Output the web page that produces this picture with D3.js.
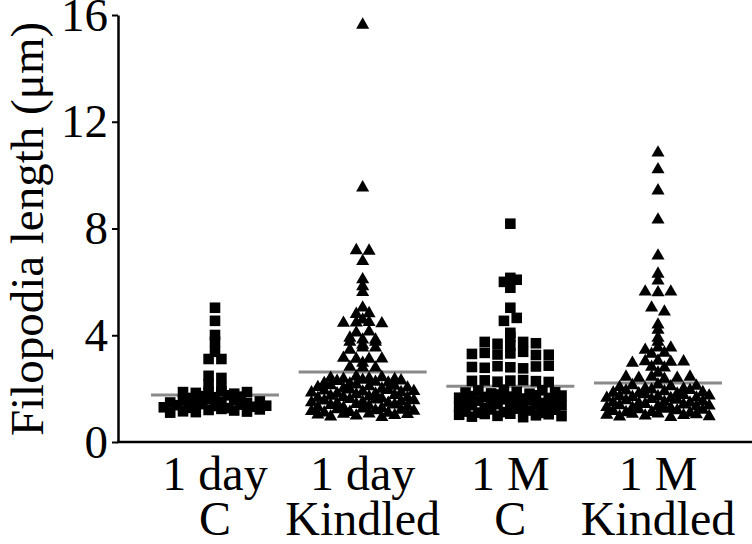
<!DOCTYPE html>
<html>
<head>
<meta charset="utf-8">
<script src="https://cdn.jsdelivr.net/npm/d3@7"></script>
<style>
  body { margin: 0; background: #fff; }
  svg text { font-family: "Liberation Serif", "Times New Roman", serif; fill: #000; }
</style>
</head>
<body>
<svg id="chart" width="752" height="544"></svg>
<script>
// category labels (two lines each)
var labelTop = ["1 day", "1 day", "1 M", "1 M"];
var labelBottom = ["C", "Kindled", "C", "Kindled"];
var yTicks = [0, 4, 8, 12, 16];

// filopodia lengths (um)
var dayC = [5.03, 4.54, 4.01, 3.75, 3.38, 3.11, 3.11, 2.48, 2.40, 2.14, 2.03,
  1.87, 1.84, 1.87, 1.90, 1.81, 1.87,
  1.65, 1.72, 1.68, 1.75, 1.70,
  1.48, 1.55, 1.45, 1.60, 1.50, 1.58, 1.46, 1.52,
  1.30, 1.38, 1.28, 1.42, 1.35, 1.27, 1.40, 1.32, 1.36,
  1.10, 1.15, 1.12, 1.20, 1.24, 1.18, 1.14, 1.22];
var dayKindled = [15.63, 9.53, 7.18, 7.16, 6.77, 6.09, 5.83, 5.61, 5.03, 4.79, 4.82,
  4.46, 4.47, 4.49, 4.44, 4.58, 3.75, 3.90, 3.83, 4.09, 4.13, 3.83, 3.64, 3.75,
  3.45, 3.53, 3.53, 3.15, 3.11, 2.96, 3.11, 3.12, 2.81, 2.78, 2.78,
  2.40, 2.36, 2.45, 2.38, 2.42, 2.35,
  2.20, 2.28, 2.18, 2.32, 2.25, 2.22, 2.30,
  2.05, 2.12, 2.00, 2.15, 2.08, 1.99, 2.10, 2.03,
  1.85, 1.92, 1.82, 1.96, 1.88, 1.81, 1.94, 1.86, 1.90,
  1.65, 1.72, 1.68, 1.78, 1.70, 1.63, 1.75, 1.66,
  1.48, 1.55, 1.45, 1.60, 1.50, 1.58, 1.46, 1.52, 1.56,
  1.30, 1.38, 1.28, 1.42, 1.35, 1.27, 1.40, 1.33,
  1.15, 1.10, 1.22, 1.12, 1.25, 1.18, 1.09, 1.20, 1.16,
  1.02, 0.95, 1.05, 0.98, 1.06, 0.93, 1.00, 1.04];
var monthC = [8.18, 6.15, 6.00, 6.08, 5.78, 5.03, 4.54, 4.65, 4.09, 3.94,
  3.75, 3.68, 3.62, 3.75, 3.70,
  3.30, 3.34, 3.28, 3.32, 3.38, 3.26, 3.27,
  2.81, 2.78, 2.84, 2.80, 2.76, 2.83, 2.86,
  2.29, 2.31, 2.26, 2.30, 2.32, 2.28, 2.25,
  1.85, 1.93, 1.82, 1.96, 1.88, 1.81, 1.94, 1.86,
  1.66, 1.72, 1.69, 1.78, 1.70, 1.63, 1.75, 1.65, 1.74,
  1.49, 1.55, 1.45, 1.60, 1.51, 1.58, 1.46, 1.53,
  1.31, 1.38, 1.28, 1.42, 1.35, 1.27, 1.40, 1.33, 1.37,
  1.14, 1.10, 1.22, 1.12, 1.25, 1.18, 1.09, 1.21,
  1.02, 0.95, 1.05, 0.98, 1.06, 0.93, 1.00, 1.04, 0.97];
var monthKindled = [10.84, 10.21, 9.42, 8.33, 6.98, 6.30, 6.04, 5.63, 5.60, 5.63,
  5.03, 4.88, 4.39, 4.20, 3.90, 3.75, 3.45, 3.53, 3.53, 3.30, 3.34,
  2.96, 3.02, 3.04, 3.00, 3.01, 2.81, 2.78, 2.59,
  2.44, 2.40, 2.44, 2.36, 2.40, 2.44,
  2.05, 2.12, 2.00, 2.15, 2.08, 1.99, 2.10,
  1.84, 1.92, 1.82, 1.96, 1.89, 1.81, 1.94, 1.86,
  1.65, 1.71, 1.68, 1.78, 1.70, 1.64, 1.75, 1.66, 1.73,
  1.48, 1.56, 1.45, 1.60, 1.50, 1.57, 1.47, 1.52,
  1.30, 1.37, 1.28, 1.42, 1.34, 1.27, 1.40, 1.33, 1.36,
  1.15, 1.11, 1.22, 1.12, 1.24, 1.18, 1.09, 1.20,
  1.01, 0.95, 1.05, 0.98, 1.06, 0.93, 1.00, 1.03, 0.96];
var medians = [1.76, 2.62, 2.09, 2.21];

var series = [dayC, dayKindled, monthC, monthKindled];
var shapes = [d3.symbolSquare, d3.symbolTriangle, d3.symbolSquare, d3.symbolTriangle];
var sizes = [112, 74, 112, 74];

var axisX = 118, axisY = 442;
var binSize = 0.18, dx = 12.8, halfLine = 64;

var svg = d3.select("#chart");

var x = d3.scalePoint().domain(d3.range(4)).range([215, 658]);
var y = d3.scaleLinear().domain([0, 16]).range([axisY, 15]);

// values sharing a bin are set side by side, centred on the category
function swarm(values, cx) {
  var pts = [];
  d3.groups(values, function (v) { return Math.floor(v / binSize); })
    .forEach(function (b) {
      var n = b[1].length;
      b[1].forEach(function (v, i) {
        pts.push({ v: v, x: cx + (i - (n - 1) / 2) * dx });
      });
    });
  return pts;
}

// medians (under the points)
svg.selectAll("line.median")
  .data(medians)
  .enter()
  .append("line")
  .attr("class", "median")
  .attr("x1", function (d, i) { return x(i) - halfLine; })
  .attr("x2", function (d, i) { return x(i) + halfLine; })
  .attr("y1", function (d) { return y(d); })
  .attr("y2", function (d) { return y(d); })
  .attr("stroke", "#8a8a8a")
  .attr("stroke-width", 3);

series.forEach(function (vals, gi) {
  var sym = d3.symbol().type(shapes[gi]).size(sizes[gi]);
  svg.append("g")
    .selectAll("path")
    .data(swarm(vals, x(gi)))
    .enter()
    .append("path")
    .attr("d", sym)
    .attr("transform", function (d) {
      return "translate(" + d.x + "," + y(d.v) + ")";
    })
    .attr("fill", "#000");
});

// y axis
var yAxis = svg.append("g")
  .attr("transform", "translate(" + axisX + ",0)")
  .call(d3.axisLeft(y).tickValues(yTicks).tickSize(6).tickPadding(4).tickSizeOuter(0));
yAxis.select(".domain").attr("stroke", "#000").attr("stroke-width", 2.5);
yAxis.selectAll(".tick line").attr("stroke", "#000").attr("stroke-width", 2);
yAxis.selectAll(".tick text")
  .style("font-size", "47px")
  .attr("fill", "#000");

// x axis baseline
svg.append("line")
  .attr("x1", axisX - 1)
  .attr("x2", 752)
  .attr("y1", axisY)
  .attr("y2", axisY)
  .attr("stroke", "#000")
  .attr("stroke-width", 2.5);

// category labels
var lab = svg.selectAll("text.cat")
  .data(d3.range(4))
  .enter()
  .append("text")
  .attr("class", "cat")
  .attr("text-anchor", "middle")
  .style("font-size", "48px");
lab.append("tspan")
  .attr("x", function (d) { return x(d); })
  .attr("y", 490)
  .text(function (d) { return labelTop[d]; });
lab.append("tspan")
  .attr("x", function (d) { return x(d); })
  .attr("y", 535)
  .text(function (d) { return labelBottom[d]; });

// y title
svg.append("text")
  .attr("transform", "translate(43,229) rotate(-90)")
  .attr("text-anchor", "middle")
  .style("font-size", "47px")
  .text("Filopodia length (μm)");
</script>
</body>
</html>
